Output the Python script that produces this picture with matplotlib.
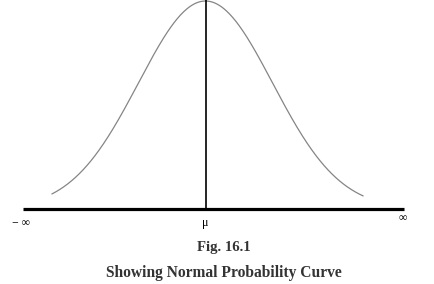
import numpy as np
import matplotlib
matplotlib.use('Agg')
import matplotlib.pyplot as plt

# normal probability curve, in standard units
mu = 0.0
sigma = 1.0
z_start, z_end = -2.29, 2.35      # where the drawn curve stops
axis_start, axis_end = -2.72, 2.96  # ends of the base line

tick_pos = [-2.75, mu, 2.95]
tick_lab = ['\u2212 \u221e', '\u03bc', '\u221e']

fig_title = 'Fig. 16.1'
caption = 'Showing Normal Probability Curve'

z = np.linspace(z_start, z_end, 400)
pdf = np.exp(-(z - mu) ** 2 / (2 * sigma ** 2)) / (sigma * np.sqrt(2 * np.pi))
peak = 1 / (sigma * np.sqrt(2 * np.pi))

fig = plt.figure(figsize=(4.34, 2.84), dpi=100)
ax = fig.add_axes([0, 0, 1, 1])
ax.set_xlim(-205.5 / 67, (434 - 205.5) / 67)
ax.set_ylim(-75 / 208 * peak, 209 / 208 * peak)
ax.axis('off')

ax.plot(z, pdf, color='#858585', lw=0.9)
ax.plot([mu, mu], [0, peak * 1.01], color='black', lw=1.2)
ax.plot([axis_start, axis_end], [0, 0], color='black', lw=2.3, solid_capstyle='butt')

serif = ['Liberation Serif', 'DejaVu Serif']
ax.text(tick_pos[0], -0.026, tick_lab[0], ha='center', va='center', fontsize=8.5, family=serif)
ax.text(tick_pos[1], -0.027, tick_lab[1], ha='center', va='center', fontsize=8.5, family=serif)
ax.text(tick_pos[2], -0.018, tick_lab[2], ha='center', va='center', fontsize=8.5, family=serif)

fig.text(223.5 / 434, 1 - 248 / 284, fig_title, ha='center', va='center',
         fontsize=10.6, fontweight='bold', family=serif, color='#333333')
fig.text(223.5 / 434, 1 - 273 / 284, caption, ha='center', va='center',
         fontsize=11.2, fontweight='bold', family=serif, color='#333333')

fig.savefig('out.png', dpi=100)
